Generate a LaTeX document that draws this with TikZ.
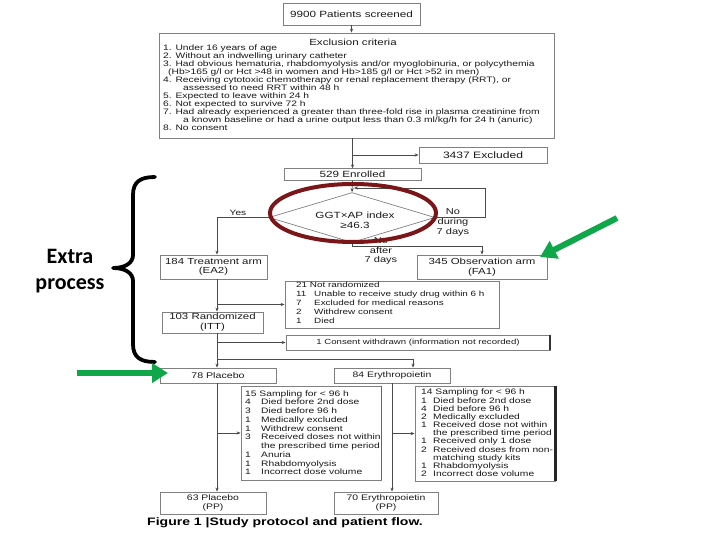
\documentclass[tikz,border=0pt]{standalone}
\usepackage{fontspec}
\setmainfont{Liberation Sans}
\newfontfamily\fs[FakeStretch=1.3]{Liberation Sans}
\newfontfamily\carl{Carlito}
\usetikzlibrary{shapes.geometric,arrows.meta,calc}
\definecolor{boxc}{HTML}{808080}
\definecolor{arrc}{HTML}{4A4A4A}
\definecolor{txtc}{HTML}{1A1A1A}
\definecolor{ellc}{HTML}{7A1518}
\definecolor{grn}{HTML}{10A64A}
\begin{document}
\begin{tikzpicture}[x=1pt,y=-1pt,
 box/.style={draw=boxc, line width=0.8pt, inner sep=0pt, align=center, text=txtc, font=\fs\fontsize{8.8}{9.5}\selectfont},
 arr/.style={draw=arrc, line width=0.6pt, -{Stealth[length=4pt,width=3.2pt]}},
 ln/.style={draw=arrc, line width=0.6pt},
 lbl/.style={inner sep=0pt, align=center, text=txtc, font=\fs\fontsize{8.5}{10}\selectfont},
 small/.style={inner sep=0pt, align=left, text=txtc},
 garrow/.style={draw=grn, line width=6pt, -{Triangle[length=16pt,width=19pt]}}]
\useasboundingbox (0,0) rectangle (720,540);
\fill[white] (0,0) rectangle (720,540);

% helper coordinates for vertical lines
\coordinate (vx) at (217,0);
\coordinate (ex) at (413,0);
\coordinate (ey) at (392,0);

% boxes
\node[box, minimum width=137pt, minimum height=22pt, font=\fs\fontsize{9}{10}\selectfont] (scr) at (351.5,14) {9900 Patients screened};
\node[box, minimum width=395pt, minimum height=105pt] (excl) at (356.5,85.5) {};
\node[lbl, font=\fs\fontsize{8.9}{10}\selectfont] (exT) at (353,42) {Exclusion criteria};
\node[small, anchor=north west, font=\fs\fontsize{7.9}{8}\selectfont] (exL) at (163,45) {1. Under 16 years of age\\
2. Without an indwelling urinary catheter\\
3. Had obvious hematuria, rhabdomyolysis and/or myoglobinuria, or polycythemia\\
\hspace*{5pt}(Hb>165 g/l or Hct >48 in women and Hb>185 g/l or Hct >52 in men)\\
4. Receiving cytotoxic chemotherapy or renal replacement therapy (RRT), or\\
\hspace*{20pt}assessed to need RRT within 48 h\\
5. Expected to leave within 24 h\\
6. Not expected to survive 72 h\\
7. Had already experienced a greater than three-fold rise in plasma creatinine from\\
\hspace*{20pt}a known baseline or had a urine output less than 0.3 ml/kg/h for 24 h (anuric)\\
8. No consent};

\node[box, minimum width=128pt, minimum height=16pt, font=\fs\fontsize{9.3}{10}\selectfont] (exd) at (483,155) {3437 Excluded};
\node[box, minimum width=137pt, minimum height=11.5pt, font=\fs\fontsize{9}{10}\selectfont] (enr) at (352.5,174.5) {529 Enrolled};

\node[draw=boxc, line width=0.7pt, shape=diamond, minimum width=166pt, minimum height=50pt, inner sep=0pt] (dia) at (352,217.5) {};
\node[lbl, font=\fs\fontsize{9}{10}\selectfont] (diaT) at (355,220) {GGT×AP index\\≥46.3};

\node[box, minimum width=107pt, minimum height=24pt] (trt) at (213.5,267) {184 Treatment arm\\(EA2)};
\node[box, minimum width=130pt, minimum height=24pt] (obs) at (482,267) {345 Observation arm\\(FA1)};

\node[box, minimum width=214pt, minimum height=47pt] (nr) at (392,304.5) {};
\node[small, anchor=north west, font=\fs\fontsize{7.6}{9}\selectfont] (nrT) at (296,281.4) {\begin{tabular}{@{}p{18pt}@{}l@{}}
\multicolumn{2}{@{}l@{}}{21 Not randomized}\\
11&Unable to receive study drug within 6 h\\
7&Excluded for medical reasons\\
2&Withdrew consent\\
1&Died
\end{tabular}};

\node[box, minimum width=101pt, minimum height=21pt, font=\fs\fontsize{8.8}{10}\selectfont] (rnd) at (212.5,322.5) {103 Randomized\\(ITT)};
\node[box, minimum width=264pt, minimum height=15pt, font=\fs\fontsize{7.4}{9}\selectfont] (cw) at (418,342.5) {1 Consent withdrawn (information not recorded)};

\node[box, minimum width=116pt, minimum height=15pt, font=\fs\fontsize{8.2}{9}\selectfont] (plc) at (218,375.5) {78 Placebo};
\node[box, minimum width=116pt, minimum height=15pt, font=\fs\fontsize{8}{9}\selectfont] (ery) at (392,375.5) {84 Erythropoietin};

\node[box, minimum width=140pt, minimum height=94pt] (sl) at (311,433) {};
\node[small, anchor=north west, font=\fs\fontsize{7.9}{8.77}\selectfont] (slT) at (245,389.7) {\begin{tabular}{@{}p{16pt}@{}l@{}}
\multicolumn{2}{@{}l@{}}{15 Sampling for < 96 h}\\
4&Died before 2nd dose\\
3&Died before 96 h\\
1&Medically excluded\\
1&Withdrew consent\\
3&Received doses not within\\
&the prescribed time period\\
1&Anuria\\
1&Rhabdomyolysis\\
1&Incorrect dose volume
\end{tabular}};

\node[box, minimum width=140pt, minimum height=95pt] (sr) at (485,433.5) {};
\node[small, anchor=north west, font=\fs\fontsize{7.9}{8.1}\selectfont] (srT) at (421,389) {\begin{tabular}{@{}p{12pt}@{}l@{}}
\multicolumn{2}{@{}l@{}}{14 Sampling for < 96 h}\\
1&Died before 2nd dose\\
4&Died before 96 h\\
2&Medically excluded\\
1&Received dose not within\\
&the prescribed time period\\
1&Received only 1 dose\\
2&Received doses from non-\\
&matching study kits\\
1&Rhabdomyolysis\\
2&Incorrect dose volume
\end{tabular}};
\draw[line width=2.5pt, black!85] (sr.north east) -- (sr.south east);
\draw[line width=2pt, black!80] (cw.north east) -- (cw.south east);
\draw[line width=1.2pt, black!60] (sl.north east) -- (sl.south east);

\node[box, minimum width=106pt, minimum height=22pt, font=\fs\fontsize{8}{8.5}\selectfont] (pp1) at (213,503) {63 Placebo\\(PP)};
\node[box, minimum width=104pt, minimum height=22pt, font=\fs\fontsize{8}{8.5}\selectfont] (pp2) at (386,503) {70 Erythropoietin\\(PP)};

% connectors
\draw[arr] (scr.south) -- (scr.south |- excl.north);
\draw[arr] (excl.south -| enr.north) -- (enr.north);
\draw[arr] (excl.south -| enr.north) |- (exd.west);
\draw[arr] (enr.south) -- (dia.north);
\coordinate (lpA) at (485,188);
\coordinate (lpB) at (354,188);
\draw[arr] (dia.east) -| (lpA) -- (lpB);
\draw[arr] (dia.west) -| (vx |- trt.north);
\draw[arr] (dia.south) -- ++(0,3.5) -| (obs.north);
\draw[arr] (vx |- trt.south) -- (vx |- rnd.north);
\draw[arr] (vx |- nr.west) -- (nr.west);
\coordinate (spl) at (217,359);
\draw[ln] (vx |- rnd.south) -- (spl);
\draw[arr] (vx |- cw.west) -- (cw.west);
\draw[arr] (spl) -- (vx |- plc.north);
\draw[arr] (spl) -| (ex |- ery.north);
\draw[arr] (vx |- plc.south) -- (vx |- pp1.north);
\draw[arr] (vx |- sl.west) -- (sl.west);
\draw[arr] (ey |- ery.south) -- (ey |- pp2.north);
\draw[arr] (ey |- sr.west) -- (sr.west);

% branch labels
\node[lbl, font=\fs\fontsize{7.8}{10}\selectfont] (yes) at (238,213) {Yes};
\node[lbl] (nod) at (453,222) {No\\during\\7 days};
\node[lbl, font=\fs\fontsize{8.5}{9.7}\selectfont] (noa) at (381,251) {No\\after\\7 days};

% red ellipse
\draw[draw=ellc, line width=4pt] (353,213) ellipse [x radius=83, y radius=29];

% caption
\node[inner sep=0pt, anchor=west, text=black, font=\fs\bfseries\fontsize{10.8}{12}\selectfont] (cap) at (147,523) {Figure 1 |Study protocol and patient flow.};

% brace and annotation
\draw[line width=3.8pt, black, line cap=round, line join=round] (155,177) .. controls (140,177) and (133,182) .. (133,195) -- (133,255) .. controls (133,263) and (125,268) .. (113,268) .. controls (125,268) and (133,273) .. (133,281) -- (133,344) .. controls (133,357) and (140,362) .. (155,362);
\node[inner sep=0pt, align=center, font=\carl\bfseries\fontsize{22}{26}\selectfont] (ep) at (70,271) {Extra\\process};

% green arrows
\coordinate (g1a) at (77,373);
\coordinate (g1b) at (168,373);
\draw[garrow] (g1a) -- (g1b);
\coordinate (g2a) at (617,218);
\coordinate (g2b) at (540,257);
\draw[garrow] (g2a) -- (g2b);
\end{tikzpicture}
\end{document}
